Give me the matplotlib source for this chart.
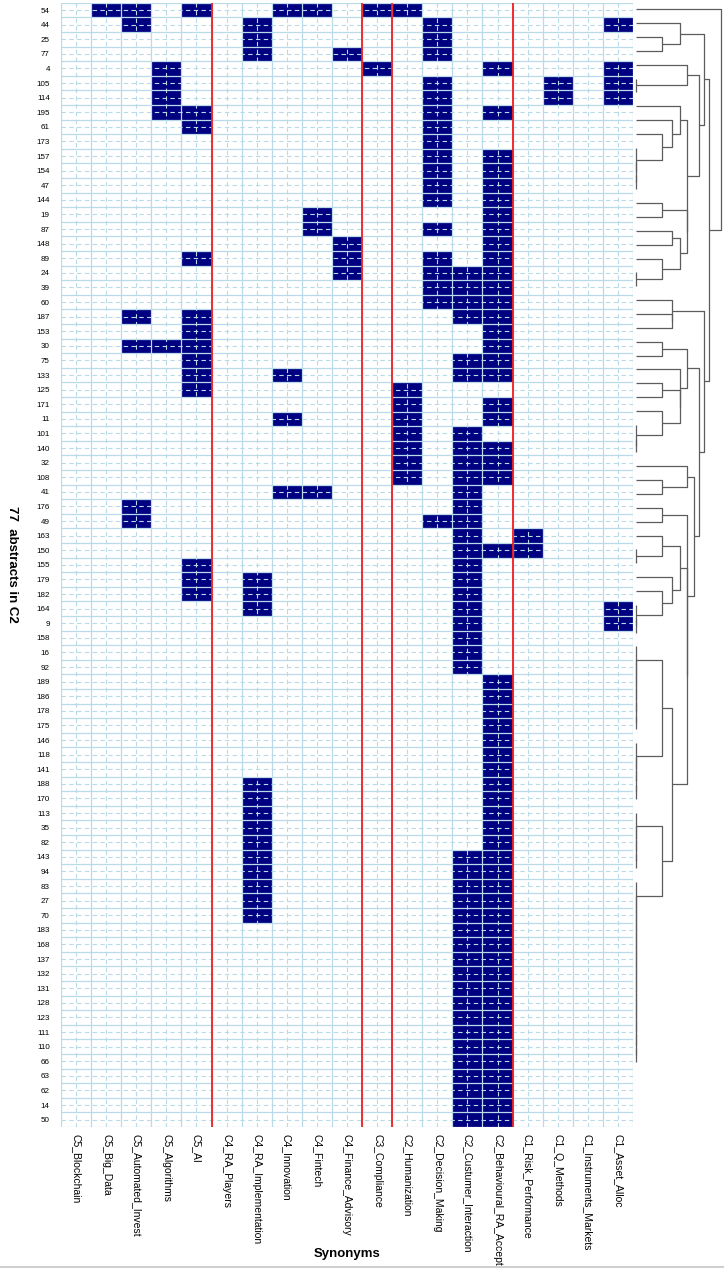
import numpy as np
import matplotlib
matplotlib.use('Agg')
import matplotlib.pyplot as plt
from matplotlib.colors import ListedColormap
from matplotlib.lines import Line2D

# abstracts, in dendrogram order (top -> bottom)
abstracts = [54, 44, 25, 77, 4, 105, 114, 195, 61, 173, 157, 154, 47, 144, 19, 87,
             148, 89, 24, 39, 60, 187, 153, 30, 75, 133, 125, 171, 11, 101, 140, 32,
             108, 41, 176, 49, 163, 150, 155, 179, 182, 164, 9, 158, 16, 92, 189, 186,
             178, 175, 146, 118, 141, 188, 170, 113, 35, 82, 143, 94, 83, 27, 70, 183,
             168, 137, 132, 131, 128, 123, 111, 110, 66, 63, 62, 14, 50]

synonyms = ['C5_Blockchain', 'C5_Big_Data', 'C5_Automated_Invest', 'C5_Algorithms', 'C5_AI',
            'C4_RA_Players', 'C4_RA_Implementation', 'C4_Innovation', 'C4_Fintech',
            'C4_Finance_Advisory', 'C3_Compliance', 'C2_Humanization', 'C2_Decision_Making',
            'C2_Custumer_Interaction', 'C2_Behavioural_RA_Accept', 'C1_Risk_Performance',
            'C1_Q_Methods', 'C1_Instruments_Markets', 'C1_Asset_Alloc']

# abstracts in which each synonym occurs
blockchain = []
big_data = [54]
automated_invest = [54, 44, 187, 30, 176, 49]
algorithms = [4, 105, 114, 195, 30]
ai = [54, 195, 61, 89, 187, 153, 30, 75, 133, 125, 155, 179, 182]
ra_players = []
ra_implementation = [44, 25, 77, 179, 182, 164, 188, 170, 113, 35, 82, 143, 94, 83, 27, 70]
innovation = [54, 133, 11, 41]
fintech = [54, 19, 87, 41]
finance_advisory = [77, 148, 89, 24]
compliance = [54, 4]
humanization = [54, 125, 171, 11, 101, 140, 32, 108]
decision_making = [44, 25, 77, 105, 114, 195, 61, 173, 157, 154, 47, 144, 87, 89, 24, 39, 60, 49]
custumer_interaction = [24, 39, 60, 187, 75, 133, 101, 140, 32, 108, 41, 176, 49, 163, 150,
                        155, 179, 182, 164, 9, 158, 16, 92, 143, 94, 83, 27, 70, 183, 168,
                        137, 132, 131, 128, 123, 111, 110, 66, 63, 62, 14, 50]
behavioural = [4, 195, 157, 154, 47, 144, 19, 87, 148, 89, 24, 39, 60, 187, 153, 30, 75, 133,
               171, 11, 140, 32, 108, 150, 189, 186, 178, 175, 146, 118, 141, 188, 170, 113,
               35, 82, 143, 94, 83, 27, 70, 183, 168, 137, 132, 131, 128, 123, 111, 110, 66,
               63, 62, 14, 50]
risk_performance = [163, 150]
q_methods = [105, 114]
instruments_markets = []
asset_alloc = [44, 4, 105, 114, 164, 9]

hits = [blockchain, big_data, automated_invest, algorithms, ai, ra_players, ra_implementation,
        innovation, fintech, finance_advisory, compliance, humanization, decision_making,
        custumer_interaction, behavioural, risk_performance, q_methods, instruments_markets,
        asset_alloc]

# category borders (after column index)
borders = [5, 10, 11, 15]


# dendrogram: (left, right, height); identical abstracts are tied at height 0
def tie(*ids):
    node = ids[-1]
    for i in reversed(ids[:-1]):
        node = (i, node, 0.0)
    return node

A = (44, (25, 77, 1.0), 1.73)
C = (4, tie(105, 114), 2.0)
E = (195, (61, (173, tie(157, 154, 47, 144), 1.0), 1.41), 1.73)
F = (19, 87, 1.0)
G = ((148, 89, 1.41), (24, tie(39, 60), 1.0), 1.73)
D = (E, (F, G, 2.0), 2.0)
Y = (A, (C, D, 2.45), 2.65)
H = (187, (153, 30, 1.41), 1.41)
J = (75, 133, 1.0)
K = (125, ((171, 11, 1.0), (101, tie(140, 32, 108), 1.0), 1.73), 1.73)
Q = (41, (176, 49, 1.0), 2.0)
P = (163, 150, 1.0)
M = ((155, tie(179, 182), 1.0), (164, (9, tie(158, 16, 92), 1.0), 1.41), 1.73)
N = ((tie(189, 186, 178, 175, 146, 118, 141), tie(188, 170, 113, 35, 82), 1.0),
     (tie(143, 94, 83, 27, 70),
      tie(183, 168, 137, 132, 131, 128, 123, 111, 110, 66, 63, 62, 14, 50), 1.0), 1.41)
S = (Q, (P, (M, N, 2.0), 2.0), 2.24)
Z = (H, ((J, K, 2.0), S, 2.45), 2.65)
tree = (54, (Y, Z, 2.83), 3.3)

plt.rcParams['font.family'] = ['Liberation Sans', 'DejaVu Sans']

mat = np.zeros((len(abstracts), len(synonyms)))
for j, ids in enumerate(hits):
    for a in ids:
        mat[abstracts.index(a), j] = 1

W, Hpx = 724, 1268
fig = plt.figure(figsize=(W / 100, Hpx / 100), dpi=100)
ax = fig.add_axes([61 / W, (Hpx - 1127) / Hpx, 572 / W, 1124.3 / Hpx])

ax.pcolormesh(mat, cmap=ListedColormap(['white', '#000080']), vmin=0, vmax=1)
ax.set_xlim(0, len(synonyms))
ax.set_ylim(len(abstracts), 0)

ax.set_xticks(np.arange(len(synonyms)) + 0.5)
ax.set_xticklabels(synonyms, rotation=270, fontsize=7.5, va='top', ha='center')
ax.set_yticks(np.arange(len(abstracts)) + 0.5)
ax.set_yticklabels([str(a) for a in abstracts], fontsize=5.8)
ax.set_xticks(np.arange(len(synonyms) + 1), minor=True)
ax.set_yticks(np.arange(len(abstracts) + 1), minor=True)
ax.tick_params(which='both', length=0)
ax.tick_params(axis='x', pad=5)
ax.tick_params(axis='y', pad=8)

ax.set_axisbelow(False)
ax.grid(which='minor', color='#b9dbe9', lw=0.9, ls='-')
ax.grid(which='major', color='#b9dbe9', lw=0.8, ls=(0, (4, 3)))
for s in ax.spines.values():
    s.set_visible(False)
for b in borders:
    ax.axvline(b, color='#f21d1d', lw=1.3, zorder=4)

ax.set_xlabel('Synonyms', fontsize=9.5, fontweight='bold', va='top')
ax.xaxis.set_label_coords(0.5, (1127 - 1248) / 1124.3)
ax.set_ylabel('77  abstracts in C2', fontsize=9.5, fontweight='bold', rotation=270,
              va='center')
ax.yaxis.set_label_coords((12 - 61) / 572, 0.5)

# dendrogram on the right (its leaves are a bit tighter than the rows)
unit = 25.67
step = 13.85
top = 9.3 - step / 2
bottom = 9.3 + step * (len(abstracts) - 0.5)
dax = fig.add_axes([634 / W, (Hpx - bottom) / Hpx, 90 / W, (bottom - top) / Hpx])
dax.set_xlim(-2 / unit, 88 / unit)
dax.set_ylim(len(abstracts) - 0.5, -0.5)
dax.axis('off')


def draw(node):
    if not isinstance(node, tuple):
        return abstracts.index(node), 0.0
    left, right, h = node
    pl, hl = draw(left)
    pr, hr = draw(right)
    dax.plot([hl, h, h, hr], [pl, pl, pr, pr], color='#5c5c5c', lw=0.9,
             solid_capstyle='butt')
    return (pl + pr) / 2, h


draw(tree)

fig.add_artist(Line2D([0, 1], [1.5 / Hpx, 1.5 / Hpx], color='#cfcfcf', lw=2.2))

fig.savefig('out.png', dpi=100)
